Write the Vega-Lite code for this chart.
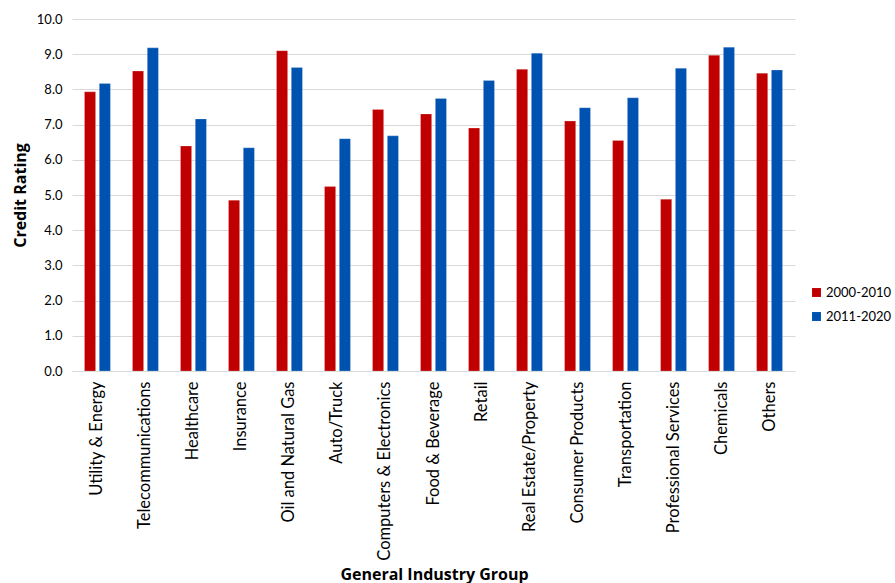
{
  "$schema": "https://vega.github.io/schema/vega-lite/v6.json",
  "autosize": {"type": "none"},
  "padding": {"left": 72, "top": 19, "right": 100, "bottom": 212},
  "width": 723,
  "height": 352,
  "background": "white",
  "config": {
    "font": "Lato",
    "view": {"stroke": null}
  },
  "data": {
    "values": [
      {"group": "Utility & Energy", "period": "2000-2010", "rating": 7.93},
      {"group": "Utility & Energy", "period": "2011-2020", "rating": 8.17},
      {"group": "Telecommunications", "period": "2000-2010", "rating": 8.52},
      {"group": "Telecommunications", "period": "2011-2020", "rating": 9.18},
      {"group": "Healthcare", "period": "2000-2010", "rating": 6.39},
      {"group": "Healthcare", "period": "2011-2020", "rating": 7.16},
      {"group": "Insurance", "period": "2000-2010", "rating": 4.85},
      {"group": "Insurance", "period": "2011-2020", "rating": 6.34},
      {"group": "Oil and Natural Gas", "period": "2000-2010", "rating": 9.1},
      {"group": "Oil and Natural Gas", "period": "2011-2020", "rating": 8.62},
      {"group": "Auto/Truck", "period": "2000-2010", "rating": 5.24},
      {"group": "Auto/Truck", "period": "2011-2020", "rating": 6.6},
      {"group": "Computers & Electronics", "period": "2000-2010", "rating": 7.43},
      {"group": "Computers & Electronics", "period": "2011-2020", "rating": 6.68},
      {"group": "Food & Beverage", "period": "2000-2010", "rating": 7.3},
      {"group": "Food & Beverage", "period": "2011-2020", "rating": 7.74},
      {"group": "Retail", "period": "2000-2010", "rating": 6.9},
      {"group": "Retail", "period": "2011-2020", "rating": 8.25},
      {"group": "Real Estate/Property", "period": "2000-2010", "rating": 8.57},
      {"group": "Real Estate/Property", "period": "2011-2020", "rating": 9.03},
      {"group": "Consumer Products", "period": "2000-2010", "rating": 7.1},
      {"group": "Consumer Products", "period": "2011-2020", "rating": 7.48},
      {"group": "Transportation", "period": "2000-2010", "rating": 6.55},
      {"group": "Transportation", "period": "2011-2020", "rating": 7.76},
      {"group": "Professional Services", "period": "2000-2010", "rating": 4.88},
      {"group": "Professional Services", "period": "2011-2020", "rating": 8.6},
      {"group": "Chemicals", "period": "2000-2010", "rating": 8.97},
      {"group": "Chemicals", "period": "2011-2020", "rating": 9.2},
      {"group": "Others", "period": "2000-2010", "rating": 8.46},
      {"group": "Others", "period": "2011-2020", "rating": 8.55}
    ]
  },
  "mark": {"type": "bar", "stroke": "#ffffff", "strokeOpacity": 0.4, "strokeWidth": 0.5},
  "encoding": {
    "x": {
      "field": "group",
      "type": "nominal",
      "sort": null,
      "scale": {"paddingInner": 0.46, "paddingOuter": 0.26},
      "axis": {
        "title": "General Industry Group",
        "titleFont": "Open Sans",
        "titleFontSize": 16,
        "titleFontWeight": "bold",
        "titleColor": "#000000",
        "titleX": 362,
        "titleY": 203,
        "titleBaseline": "middle",
        "labelAngle": -90,
        "labelAlign": "right",
        "labelBaseline": "middle",
        "labelPadding": 10,
        "labelFontSize": 16.5,
        "labelColor": "#000000",
        "labelLimit": 300,
        "ticks": false,
        "domainColor": "#d9d9d9",
        "domainWidth": 1
      }
    },
    "xOffset": {
      "field": "period",
      "type": "nominal",
      "scale": {"paddingInner": 0.25}
    },
    "y": {
      "field": "rating",
      "type": "quantitative",
      "scale": {"domain": [0, 10], "nice": false},
      "axis": {
        "title": "Credit Rating",
        "titleFont": "Open Sans",
        "titleFontSize": 16,
        "titleFontWeight": "bold",
        "titleColor": "#000000",
        "titleX": -52,
        "titleY": 176,
        "titleAngle": -90,
        "titleAlign": "center",
        "titleBaseline": "middle",
        "values": [0, 1, 2, 3, 4, 5, 6, 7, 8, 9, 10],
        "format": ".1f",
        "labelFontSize": 13,
        "labelColor": "#000000",
        "labelPadding": 10,
        "ticks": false,
        "domain": false,
        "gridColor": "#d9d9d9",
        "gridWidth": 1
      }
    },
    "color": {
      "field": "period",
      "type": "nominal",
      "scale": {"domain": ["2000-2010", "2011-2020"], "range": ["#C00000", "#0052B0"]},
      "legend": {
        "title": null,
        "orient": "none",
        "legendX": 738,
        "legendY": 267,
        "symbolType": "square",
        "symbolSize": 80,
        "symbolStrokeWidth": 0,
        "labelFontSize": 13,
        "labelColor": "#000000",
        "rowPadding": 10,
        "labelOffset": 3
      }
    }
  }
}
